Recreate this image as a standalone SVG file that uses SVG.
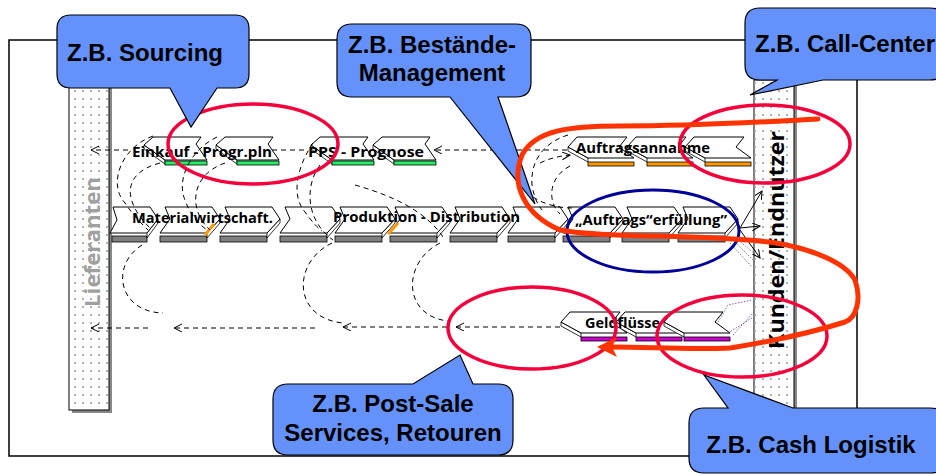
<svg xmlns="http://www.w3.org/2000/svg" width="936" height="475" viewBox="0 0 936 475">
<defs>
<style>
.dash{fill:none;stroke:#000;stroke-width:1;stroke-dasharray:5 4}
.sol{fill:none;stroke:#000;stroke-width:1}
.face{fill:#fff;stroke:#000;stroke-width:1;stroke-linejoin:round}
.bev{fill:#fff;stroke:#000;stroke-width:0.8}
.lbl{font-family:"Open Sans","Noto Sans",sans-serif;font-weight:700;font-size:15px;fill:#000}
.call{fill:#6492FA;stroke:#000;stroke-width:1.2}
.ct{font-family:"Liberation Sans",Arial,sans-serif;font-weight:700;font-size:24px;fill:#000}
.red{fill:none;stroke:#F5003A;stroke-width:3.5}
</style>
<pattern id="dots" width="8" height="8" patternUnits="userSpaceOnUse"><circle cx="3" cy="3" r="1.1" fill="#a0a0a0"/></pattern>
<marker id="arr" markerWidth="10" markerHeight="10" refX="8" refY="4" orient="auto" markerUnits="userSpaceOnUse"><path d="M0,0 L8,4 L0,8" fill="none" stroke="#000" stroke-width="1"/></marker>
<g id="fwdG">
<polygon class="bev" points="-9,8 12,23 12,27 -9,12"/>
<polygon class="face" points="0,0 48,0 43,7 54,23 12,23 -9,8"/>
<rect x="12" y="24" width="42" height="4" fill="#22EE66" stroke="#000" stroke-width="0.8"/>
</g>
<g id="backO">
<polygon class="bev" points="-9,10 11,21 11,25 -9,14"/>
<polygon class="face" points="0,0 50,0 42,10 57,21 11,21 -9,10"/>
<rect x="11" y="25" width="46" height="4" fill="#FF9900" stroke="#000" stroke-width="0.8"/>
</g>
<g id="backM">
<polygon class="bev" points="-9,10 11,21 11,25 -9,14"/>
<polygon class="face" points="0,0 50,0 42,10 57,21 11,21 -9,10"/>
<rect x="11" y="25" width="46" height="4" fill="#CC00CC" stroke="#000" stroke-width="0.8"/>
</g>
<g id="chev">
<rect x="-5" y="29" width="47" height="6" fill="#808080" stroke="#000" stroke-width="0.8"/>
<polygon class="bev" points="55,12 42,26 42,31 55,16"/>
<polygon class="face" points="0,0 47,0 55,12 42,26 -5,26 5,12"/>
</g>
</defs>

<rect x="9" y="40" width="848" height="416" fill="#fff" stroke="#000" stroke-width="1.5"/>

<g id="lieferanten">
<rect x="72" y="88" width="40" height="325" fill="#888"/>
<rect x="69" y="85" width="40" height="325" fill="#fff" stroke="#000" stroke-width="1"/>
<rect x="69" y="85" width="40" height="325" fill="url(#dots)"/>
<text transform="translate(100,242) rotate(-90)" text-anchor="middle" font-family="'Open Sans','Noto Sans',sans-serif" font-weight="700" font-size="21" fill="#a0a0a0" textLength="130" lengthAdjust="spacingAndGlyphs">Lieferanten</text>
</g>

<g id="kunden">
<rect x="757" y="83" width="40" height="330" fill="#888"/>
<rect x="754" y="80" width="40" height="330" fill="#fff" stroke="#000" stroke-width="1"/>
<rect x="754" y="80" width="40" height="330" fill="url(#dots)"/>
<text transform="translate(784,240) rotate(-90)" text-anchor="middle" font-family="'Open Sans','Noto Sans',sans-serif" font-weight="700" font-size="22" fill="#000" textLength="218" lengthAdjust="spacingAndGlyphs">Kunden/Endnutzer</text>
</g>

<g id="einkauf">
<use href="#fwdG" x="153" y="137"/>
<use href="#fwdG" x="225" y="137"/>
<text class="lbl" x="132" y="157" textLength="140" lengthAdjust="spacingAndGlyphs">Einkauf - Progr.pln</text>
</g>
<g id="pps">
<use href="#fwdG" x="320" y="137"/>
<use href="#fwdG" x="382" y="137"/>
<text class="lbl" x="308" y="157" textLength="116" lengthAdjust="spacingAndGlyphs">PPS - Prognose</text>
</g>
<g id="auftragsannahme">
<use href="#backO" x="577" y="137"/>
<use href="#backO" x="636" y="137"/>
<use href="#backO" x="694" y="137"/>
<text class="lbl" x="576" y="153" textLength="134" lengthAdjust="spacingAndGlyphs">Auftragsannahme</text>
</g>
<g id="materialwirtschaft">
<rect x="112" y="236" width="35" height="6" fill="#808080" stroke="#000" stroke-width="0.8"/>
<polygon class="bev" points="158,219 147,233 147,238 158,223"/>
<polygon class="face" points="113,207 150,207 158,219 147,233 110,233 117,220"/>
<use href="#chev" x="165" y="207"/>
<use href="#chev" x="225" y="207"/>
<use href="#chev" x="285" y="207"/>
<text class="lbl" x="132" y="223" textLength="141" lengthAdjust="spacingAndGlyphs">Materialwirtschaft.</text>
<path d="M205,235 L214,224" stroke="#FF9900" stroke-width="3"/>
</g>
<g id="produktion">
<use href="#chev" x="340" y="207"/>
<use href="#chev" x="395" y="207"/>
<use href="#chev" x="455" y="207"/>
<use href="#chev" x="513" y="207"/>
<text class="lbl" x="333" y="222" textLength="187" lengthAdjust="spacingAndGlyphs">Produktion - Distribution</text>
<path d="M388,234 L398,223" stroke="#FF9900" stroke-width="3"/>
</g>
<g id="auftragserfuellung">
<use href="#chev" x="568" y="207"/>
<use href="#chev" x="627" y="207"/>
<use href="#chev" x="683" y="207"/>
<text class="lbl" x="575" y="225" textLength="152" lengthAdjust="spacingAndGlyphs">„Auftrags“erfüllung”</text>
</g>
<g id="geldfluesse">
<use href="#backM" x="570" y="312"/>
<use href="#backM" x="625" y="312"/>
<use href="#backM" x="673" y="312"/>
<text class="lbl" x="585" y="328" textLength="75" lengthAdjust="spacingAndGlyphs">Geldflüsse</text>
</g>

<g id="connectors">
<path class="dash" d="M128,150 H91" marker-end="url(#arr)"/>
<path class="dash" d="M272,150 H308"/>
<path class="dash" d="M567,150 H434" marker-end="url(#arr)"/>
<path class="dash" d="M148,328 H91" marker-end="url(#arr)"/>
<path class="dash" d="M315,328 H174" marker-end="url(#arr)"/>
<path class="dash" d="M447,327 H343" marker-end="url(#arr)"/>
<path class="dash" d="M560,327 H456" marker-end="url(#arr)"/>
<path class="dash" d="M142,245 C110,265 118,312 163,313"/>
<path class="dash" d="M332,243 C292,262 292,318 343,323"/>
<path class="dash" d="M440,243 C402,262 402,316 448,321"/>
<path class="dash" d="M153,136 C120,148 108,185 125,203 C133,215 140,222 148,230"/>
<path class="dash" d="M160,163 C125,172 120,198 150,228"/>
<path class="dash" d="M217,137 C190,150 176,180 185,200 C190,215 200,225 207,230"/>
<path class="dash" d="M225,163 C190,175 188,210 210,230"/>
<path class="dash" d="M313,143 C298,165 290,195 305,212 C312,222 318,228 322,231"/>
<path class="dash" d="M320,165 C305,185 305,220 333,240"/>
<path class="dash" d="M355,185 C390,195 425,210 443,237"/>
<path class="dash" d="M568,135 C545,142 530,160 532,185 C534,198 538,205 542,210"/>
<path class="dash" d="M540,163 C550,158 560,156 570,155" marker-end="url(#arr)"/>
<path class="dash" d="M533,197 C545,205 560,208 572,208"/>
<path class="dash" d="M570,166 C550,176 546,200 560,214"/>
<path class="sol" d="M740,228 L762,191" marker-end="url(#arr)"/>
<path class="sol" d="M740,228 L760,226" marker-end="url(#arr)"/>
<path class="sol" d="M740,230 L760,258" marker-end="url(#arr)"/>
<path d="M733,240 L755,262 M736,238 L756,255 M730,243 L752,267" stroke="#666" stroke-width="0.8" stroke-dasharray="1.5 1.5" fill="none"/>
<path d="M718,322 L728,305 L752,300 M728,333 L752,318 M733,335 L754,312" stroke="#7030A0" stroke-width="0.8" stroke-dasharray="1.5 1.5" fill="none"/>
</g>

<g id="markings">
<ellipse class="red" cx="253" cy="144" rx="85" ry="40"/>
<ellipse class="red" cx="765" cy="144" rx="85" ry="39"/>
<ellipse class="red" cx="532" cy="328" rx="84" ry="41"/>
<ellipse class="red" cx="742" cy="336" rx="85" ry="41"/>
<ellipse cx="653" cy="231" rx="86" ry="41" fill="none" stroke="#000099" stroke-width="3"/>
</g>

<g id="callout-sourcing">
<path class="call" d="M71,15 H235 Q249,15 249,29 V74 Q249,88 235,88 H217 L191,127 L170,88 H71 Q57,88 57,74 V29 Q57,15 71,15 Z"/>
<text class="ct" x="67" y="61">Z.B. Sourcing</text>
</g>
<g id="callout-bestaende">
<path class="call" d="M352,24 H516 Q531,24 531,39 V82 Q531,97 516,97 H498 L535,204 L450,97 H352 Q337,97 337,82 V39 Q337,24 352,24 Z"/>
<text class="ct" x="432" y="53" text-anchor="middle">Z.B. Bestände-</text>
<text class="ct" x="432" y="81" text-anchor="middle">Management</text>
</g>
<g id="callout-callcenter">
<path class="call" d="M760,8 H930 Q945,8 945,23 V65 Q945,80 930,80 H823 L750,95 L777,80 H760 Q745,80 745,65 V23 Q745,8 760,8 Z"/>
<text class="ct" x="755" y="52">Z.B. Call-Center</text>
</g>
<g id="callout-postsale">
<path class="call" d="M288,384 H413 L460,355 L473,384 H498 Q513,384 513,399 V440 Q513,455 498,455 H288 Q273,455 273,440 V399 Q273,384 288,384 Z"/>
<text class="ct" x="393" y="412" text-anchor="middle">Z.B. Post-Sale</text>
<text class="ct" x="393" y="441" text-anchor="middle">Services, Retouren</text>
</g>
<g id="callout-cash">
<path class="call" d="M704,408 H728 L704,375 L793,408 H930 Q946,408 946,423 V458 Q946,473 930,473 H704 Q689,473 689,458 V423 Q689,408 704,408 Z"/>
<text class="ct" x="811" y="453" text-anchor="middle">Z.B. Cash Logistik</text>
</g>

<g id="flow-arrow">
<path d="M818,119 C760,122 700,126 620,126 C570,126 535,130 522,155 C510,185 525,215 560,230 C600,238 700,234 770,242 C810,248 845,262 855,280 C862,300 856,318 845,322 C820,330 780,340 730,348 C690,350 650,347 612,347" fill="none" stroke="#FF3300" stroke-width="5" stroke-linecap="round" stroke-linejoin="round"/>
<polygon points="597,347 617,337 612,347 617,357" fill="#FF3300"/>
</g>
</svg>
